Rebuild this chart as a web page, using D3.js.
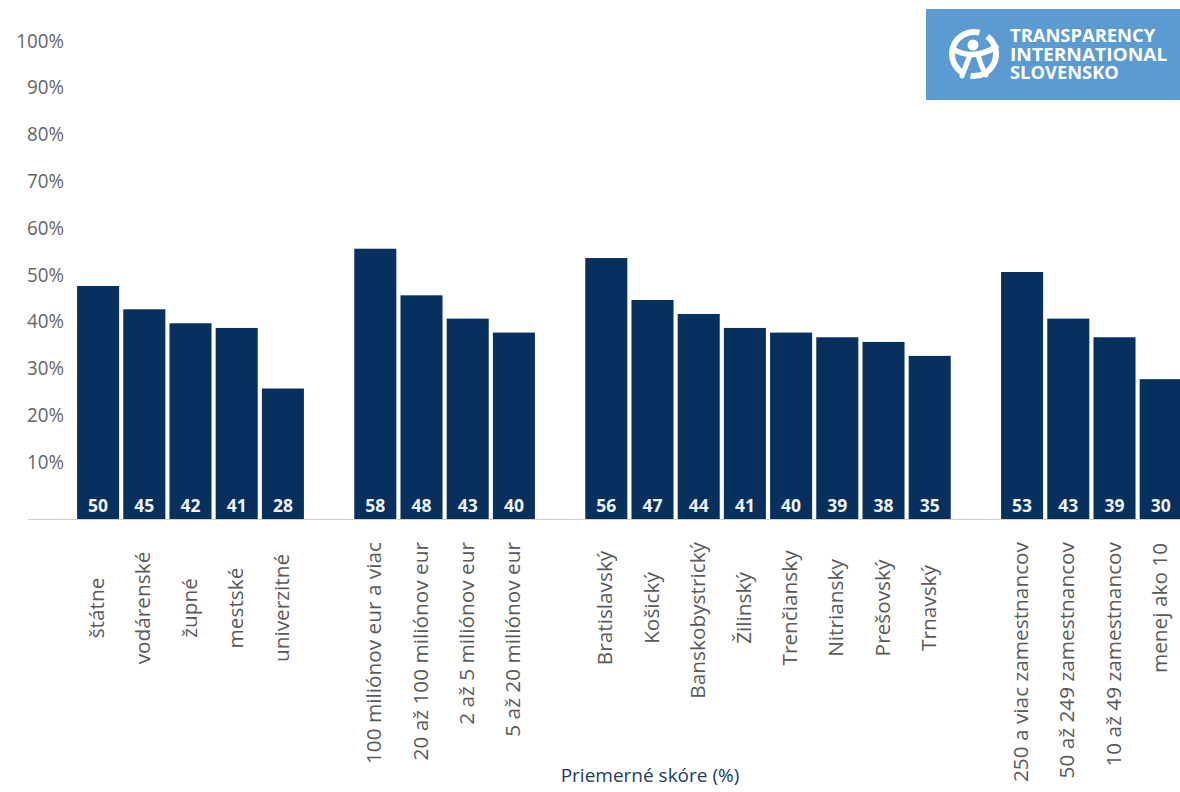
<!DOCTYPE html>
<html>
<head>
<meta charset="utf-8">
<script src="https://cdn.jsdelivr.net/npm/d3@7/dist/d3.min.js"></script>
<style>
  html, body { margin: 0; padding: 0; background: #fff; }
  svg { display: block; font-family: "Open Sans", "Noto Sans", sans-serif; }
</style>
</head>
<body>
<svg id="chart" width="1180" height="792"></svg>
<script>
// ---- data ----
const groupNames = ["typ", "obrat", "kraj", "zamestnanci"];
const groupCategories = [
  ["štátne", "vodárenské", "župné", "mestské", "univerzitné"],
  ["100 miliónov eur a viac", "20 až 100 miliónov eur", "2 až 5 miliónov eur", "5 až 20 miliónov eur"],
  ["Bratislavský", "Košický", "Banskobystrický", "Žilinský", "Trenčiansky", "Nitriansky", "Prešovský", "Trnavský"],
  ["250 a viac zamestnancov", "50 až 249 zamestnancov", "10 až 49 zamestnancov", "menej ako 10"]
];
const groupValues = [
  [50, 45, 42, 41, 28],
  [58, 48, 43, 40],
  [56, 47, 44, 41, 40, 39, 38, 35],
  [53, 43, 39, 30]
];
const yTicks = [10, 20, 30, 40, 50, 60, 70, 80, 90, 100];
const axisTitle = "Priemerné skóre (%)";
const logoLines = ["TRANSPARENCY", "INTERNATIONAL", "SLOVENSKO"];

// ---- build rows (with empty spacer slots between groups) ----
const rows = [];
const slots = [];
groupCategories.forEach((cats, gi) => {
  if (gi > 0) slots.push("__gap" + gi);
  cats.forEach((c, i) => {
    rows.push({ cat: c, value: groupValues[gi][i] });
    slots.push(c);
  });
});

const svg = d3.select("#chart");
const W = 1180;

const x = d3.scaleBand()
  .domain(slots)
  .range([75, 75 + slots.length * 46.2])
  .paddingInner(0.09)
  .paddingOuter(0.045);

const y = d3.scaleLinear().domain([0, 100]).range([519, 53]);

// y labels (sit slightly above their value level)
svg.append("g").selectAll("text")
  .data(yTicks)
  .join("text")
  .attr("transform", d => `translate(64,${y(d) - 11.5 - (d - 10) * 0.02}) scale(1,1.1)`)
  .attr("text-anchor", "end")
  .attr("dominant-baseline", "central")
  .attr("font-size", 18.8)
  .attr("fill", "#666")
  .text(d => d + "%");

// bars
svg.append("g").selectAll("rect")
  .data(rows)
  .join("rect")
  .attr("x", d => x(d.cat))
  .attr("width", x.bandwidth())
  .attr("y", d => y(d.value))
  .attr("height", d => y(0) - y(d.value))
  .attr("fill", "#07305f");

// value labels inside bars
svg.append("g").selectAll("text")
  .data(rows)
  .join("text")
  .attr("x", d => x(d.cat) + x.bandwidth() / 2)
  .attr("y", y(0) - 7)
  .attr("text-anchor", "middle")
  .attr("font-size", 17.5)
  .attr("font-weight", 700)
  .attr("fill", "#eef2f7")
  .text(d => d.value);

// baseline
svg.append("line")
  .attr("x1", 28).attr("x2", W)
  .attr("y1", y(0) + 0.5).attr("y2", y(0) + 0.5)
  .attr("stroke", "#cfcfcf").attr("stroke-width", 1.2);

// category labels (rotated)
const labelCenter = 608, labelTop = 542;
const catG = svg.append("g");
rows.forEach(d => {
  const t = catG.append("text")
    .attr("font-size", 20.8)
    .attr("fill", "#5a5a5a")
    .attr("text-anchor", "middle")
    .text(d.cat);
  const len = t.node().getComputedTextLength();
  const cy = Math.max(labelCenter, labelTop + len / 2);
  const cx = x(d.cat) + x.bandwidth() / 2;
  t.attr("transform", `translate(${cx + 6},${cy}) rotate(-90)`);
});

// axis title
svg.append("text")
  .attr("x", 650).attr("y", 782)
  .attr("text-anchor", "middle")
  .attr("font-size", 19)
  .attr("fill", "#1d3b68")
  .text(axisTitle);

// logo
const logo = svg.append("g");
logo.append("rect")
  .attr("x", 926).attr("y", 9).attr("width", W - 926).attr("height", 91)
  .attr("fill", "#5b9bd1");
const lg = logo.append("g").attr("transform", "translate(974,54)")
  .attr("fill", "none").attr("stroke", "#fff").attr("stroke-linecap", "round");
const arc = d3.arc();
lg.append("path").attr("d", arc({innerRadius: 19, outerRadius: 25, startAngle: -2.7, endAngle: 0.25})).attr("fill", "#fff").attr("stroke", "none");
lg.append("path").attr("d", arc({innerRadius: 19, outerRadius: 25, startAngle: 0.65, endAngle: 3.3})).attr("fill", "#fff").attr("stroke", "none");
lg.append("circle").attr("cx", -1).attr("cy", -9).attr("r", 5.5).attr("fill", "#fff").attr("stroke", "none");
lg.append("path").attr("d", "M-21,-5 Q-2,7 22,-7").attr("stroke-width", 5.5);
lg.append("path").attr("d", "M-4,1 Q-9,14 -12,22").attr("stroke-width", 5);
lg.append("path").attr("d", "M4,1 Q7,12 12,21").attr("stroke-width", 5);
logo.append("g").selectAll("text")
  .data(logoLines)
  .join("text")
  .attr("font-size", 13)
  .attr("font-weight", 700)
  .attr("fill", "#fff")
  .attr("transform", (d, i) => `translate(1010,${42 + i * 18.5}) scale(1,1.4)`)
  .attr("textLength", d => d.length * 12.1)
  .attr("lengthAdjust", "spacingAndGlyphs")
  .text(d => d);
</script>
</body>
</html>
